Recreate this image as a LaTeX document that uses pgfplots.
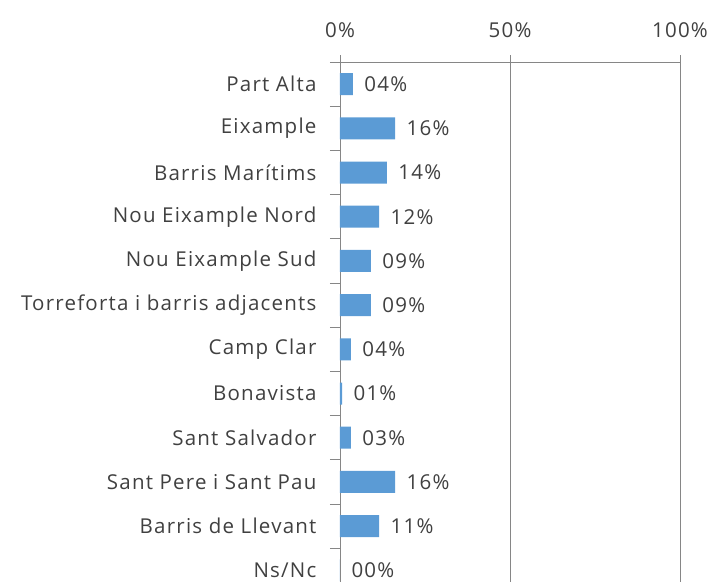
\documentclass[border=0pt]{standalone}
\usepackage{pgfplots}
\pgfplotsset{compat=1.18}
\usepackage{fontspec}
\setmainfont[LetterSpace=6]{Open Sans}
\definecolor{barblue}{RGB}{91,155,213}
\definecolor{linegray}{RGB}{134,134,134}
\definecolor{txt}{RGB}{64,64,64}
\begin{document}
\begin{tikzpicture}
\begin{axis}[
  at={(0,0)}, anchor=north west,
  scale only axis, width=340pt, height=520pt,
  xbar, bar width=22pt,
  xmin=0, xmax=100,
  ymin=-0.5, ymax=11.265, y dir=reverse,
  axis x line*=top, axis y line*=left,
  axis line style={linegray, line width=0.9pt},
  xtick={0,50,100}, xticklabels={0\%,50\%,100\%},
  xmajorgrids, grid style={linegray, line width=0.9pt},
  ytick={0,...,11},
  yticklabels={Part Alta, Eixample, Barris Marítims, Nou Eixample Nord, Nou Eixample Sud, Torreforta i barris adjacents, Camp Clar, Bonavista, Sant Salvador, Sant Pere i Sant Pau, Barris de Llevant, Ns/Nc},
  minor ytick={-0.5,0.5,...,10.5},
  tick align=outside,
  major tick length=7pt, minor tick length=10pt,
  tick style={linegray, line width=0.9pt},
  major y tick style={draw=none},
  tick label style={font=\fontsize{20.5}{24}\selectfont, text=txt},
  yticklabel style={xshift=-13pt},
  xticklabel style={yshift=14pt},
  nodes near coords, point meta=explicit symbolic,
  every node near coord/.append style={font=\fontsize{20.5}{24}\selectfont, text=txt, anchor=west, xshift=8pt},
]
\addplot[fill=barblue, draw=none] coordinates {
  (3.8,0) [04\%]
  (16.2,1) [16\%]
  (13.8,2) [14\%]
  (11.5,3) [12\%]
  (9.1,4) [09\%]
  (9.1,5) [09\%]
  (3.2,6) [04\%]
  (0.6,7) [01\%]
  (3.2,8) [03\%]
  (16.2,9) [16\%]
  (11.5,10) [11\%]
  (0,11) [00\%]
};
\end{axis}
\pgfresetboundingbox
\path[use as bounding box] (-340pt,62pt) rectangle (371pt,-520pt);
\end{tikzpicture}
\end{document}
